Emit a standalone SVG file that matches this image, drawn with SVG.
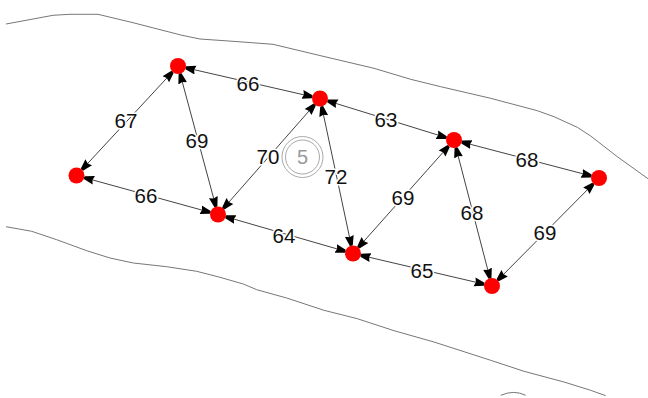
<svg xmlns="http://www.w3.org/2000/svg" width="648" height="398" viewBox="0 0 648 398">
<style>
.contour{fill:none;stroke:#777;stroke-width:1}
.edge{stroke:#444;stroke-width:1;marker-start:url(#arr);marker-end:url(#arr)}
.node{fill:#f00}
.lab{font-family:"Liberation Sans",Arial,sans-serif;font-size:20.5px;fill:#111;text-anchor:middle;dominant-baseline:central;paint-order:stroke;stroke:#fff;stroke-width:3px;stroke-linejoin:round}
.ring{fill:none;stroke:#aaa;stroke-width:1}
</style>
<defs>
<marker id="arr" markerUnits="userSpaceOnUse" markerWidth="20" markerHeight="12" refX="18" refY="6" orient="auto-start-reverse">
<path d="M0,1.5 L10,4.5 L10,7.5 L0,10.5 L1.5,6 Z" fill="#000"/>
</marker>
</defs>
<rect width="648" height="398" fill="#fff"/>
<g id="contours">
<path class="contour" d="M6,24 L53,15.3 L70,14.3 L98,14.3 L133,22.7 L182,35.3 L200,39 L233,41.3 L273,44.3 L324,56.5 L374,68.3 L410.7,79.3 L440.7,86.7 L490.7,98.3 L537.3,110.7 L554,116.7 L577.3,127.3 L590.7,136 L617.3,156.7 L648,178.7"/>
<path class="contour" d="M6,226.7 L31.7,231.3 L56.7,239.7 L86.7,250.7 L110,258 L133.3,263 L166.7,266.7 L196.7,271.3 L220,277.3 L243.3,284 L256.7,289.7 L286.7,298 L324,310.3 L357.3,318.7 L394,330.7 L434,342 L490.7,360.3 L524,371.3 L564,382 L590.7,390.3 L605.7,395.7"/>
<path class="contour" d="M500.7,395.3 Q514,389.5 525.7,395.3"/>
</g>
<g id="connectors">
<line class="edge" x1="178" y1="66" x2="76.5" y2="175.5"/>
<line class="edge" x1="178" y1="66" x2="218" y2="214.5"/>
<line class="edge" x1="178" y1="66" x2="320" y2="98.5"/>
<line class="edge" x1="76.5" y1="175.5" x2="218" y2="214.5"/>
<line class="edge" x1="218" y1="214.5" x2="320" y2="98.5"/>
<line class="edge" x1="218" y1="214.5" x2="353" y2="253.5"/>
<line class="edge" x1="320" y1="98.5" x2="353" y2="253.5"/>
<line class="edge" x1="320" y1="98.5" x2="454" y2="140"/>
<line class="edge" x1="353" y1="253.5" x2="454" y2="140"/>
<line class="edge" x1="353" y1="253.5" x2="492" y2="286"/>
<line class="edge" x1="454" y1="140" x2="492" y2="286"/>
<line class="edge" x1="454" y1="140" x2="599" y2="178"/>
<line class="edge" x1="492" y1="286" x2="599" y2="178"/>
</g>
<g id="node-a"><circle class="node" cx="178" cy="66" r="8"/></g>
<g id="node-b"><circle class="node" cx="76.5" cy="175.5" r="8"/></g>
<g id="node-c"><circle class="node" cx="218" cy="214.5" r="8"/></g>
<g id="node-d"><circle class="node" cx="320" cy="98.5" r="8"/></g>
<g id="node-e"><circle class="node" cx="353" cy="253.5" r="8"/></g>
<g id="node-f"><circle class="node" cx="454" cy="140" r="8"/></g>
<g id="node-g"><circle class="node" cx="492" cy="286" r="8"/></g>
<g id="node-h"><circle class="node" cx="599" cy="178" r="8"/></g>
<g id="marker-5">
<circle class="ring" cx="302.5" cy="157" r="20.5"/>
<circle class="ring" cx="302.5" cy="157" r="17"/>
<text x="302.5" y="157" font-family="'Liberation Sans',Arial,sans-serif" font-size="20" fill="#999" text-anchor="middle" dominant-baseline="central">5</text>
</g>
<g id="labels">
<text class="lab" x="126" y="120.3">67</text>
<text class="lab" x="197" y="140.3">69</text>
<text class="lab" x="248" y="83.3">66</text>
<text class="lab" x="146" y="195.3">66</text>
<text class="lab" x="268" y="156.3">70</text>
<text class="lab" x="336" y="176.3">72</text>
<text class="lab" x="284" y="235.3">64</text>
<text class="lab" x="386" y="119.3">63</text>
<text class="lab" x="403" y="197.3">69</text>
<text class="lab" x="422" y="270.3">65</text>
<text class="lab" x="472" y="212.3">68</text>
<text class="lab" x="527" y="159.3">68</text>
<text class="lab" x="545" y="232.3">69</text>
</g>
</svg>
